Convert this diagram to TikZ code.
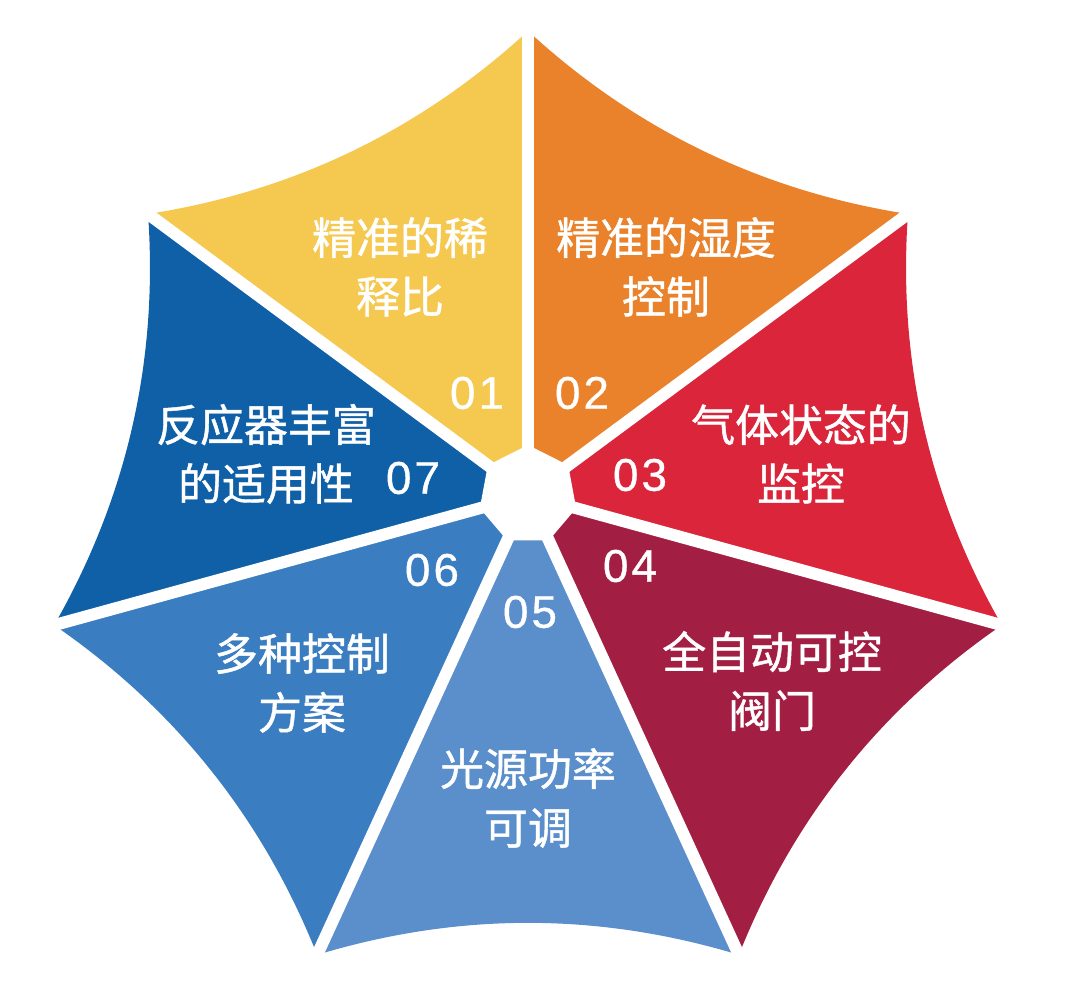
\documentclass[tikz,border=0pt]{standalone}
\usepackage{fontspec}
\newfontfamily\cjk[FakeBold=1]{Noto Sans CJK SC}
\newfontfamily\numf[LetterSpace=7,FakeBold=0.8]{Liberation Sans}
\usetikzlibrary{calc}
\definecolor{cA}{HTML}{F5C850}
\definecolor{cB}{HTML}{E9822A}
\definecolor{cC}{HTML}{DA253B}
\definecolor{cD}{HTML}{A21F43}
\definecolor{cE}{HTML}{5B8FCB}
\definecolor{cF}{HTML}{3A7EC1}
\definecolor{cG}{HTML}{1060A8}
\tikzset{
  lbl/.style={text=white, align=center, inner sep=0pt, font=\cjk\fontsize{25pt}{33.5pt}\selectfont},
  num/.style={text=white, inner sep=0pt, font=\numf\fontsize{26pt}{30pt}\selectfont},
  spoke/.style={white, line width=0.24cm},
}
\begin{document}
\begin{tikzpicture}[x=0.02cm,y=-0.02cm]
\useasboundingbox (0,0) rectangle (1080,999);
\coordinate (C) at (528,517);
\coordinate (H) at (528,495);
\foreach \k in {0,...,6}{
  \coordinate (V\k) at ($(C)+(\k*360/7-90:486)$);
  \coordinate (Q\k) at ($(C)+(\k*360/7+180/7-90:373.9)$);
}
\foreach \k in {0,...,6}{
  \pgfmathtruncatemacro\j{mod(\k+1,7)}
  \coordinate (A\k) at ($(V\k)!2/3!(Q\k)$);
  \coordinate (B\k) at ($(V\j)!2/3!(Q\k)$);
  \coordinate (h\k) at ($(H)!1cm!(V\k)$);
}
% segments
\fill[cB] (H) -- (V0) .. controls (A0) and (B0) .. (V1) -- cycle;
\fill[cC] (H) -- (V1) .. controls (A1) and (B1) .. (V2) -- cycle;
\fill[cD] (H) -- (V2) .. controls (A2) and (B2) .. (V3) -- cycle;
\fill[cE] (H) -- (V3) .. controls (A3) and (B3) .. (V4) -- cycle;
\fill[cF] (H) -- (V4) .. controls (A4) and (B4) .. (V5) -- cycle;
\fill[cG] (H) -- (V5) .. controls (A5) and (B5) .. (V6) -- cycle;
\fill[cA] (H) -- (V6) .. controls (A6) and (B6) .. (V0) -- cycle;
% gaps
\foreach \k in {0,...,6}{ \draw[spoke] (H) -- (V\k); }
\fill[white] (h0) -- (h1) -- (h2) -- (h3) -- (h4) -- (h5) -- (h6) -- cycle;
% labels
\node[lbl] (t1) at (400,267) {精准的稀\\释比};
\node[num] (n1) at (477,393) {01};
\node[lbl] (t2) at (666,267) {精准的湿度\\控制};
\node[num] (n2) at (582,393) {02};
\node[lbl] (t3) at (801,454) {气体状态的\\监控};
\node[num] (n3) at (640,475) {03};
\node[lbl] (t4) at (772,681) {全自动可控\\阀门};
\node[num] (n4) at (630,566) {04};
\node[lbl] (t5) at (528,798) {光源功率\\可调};
\node[num] (n5) at (530,612) {05};
\node[lbl] (t6) at (302,683) {多种控制\\方案};
\node[num] (n6) at (432,570) {06};
\node[lbl] (t7) at (266,454) {反应器丰富\\的适用性};
\node[num] (n7) at (413,478) {07};
\end{tikzpicture}
\end{document}
